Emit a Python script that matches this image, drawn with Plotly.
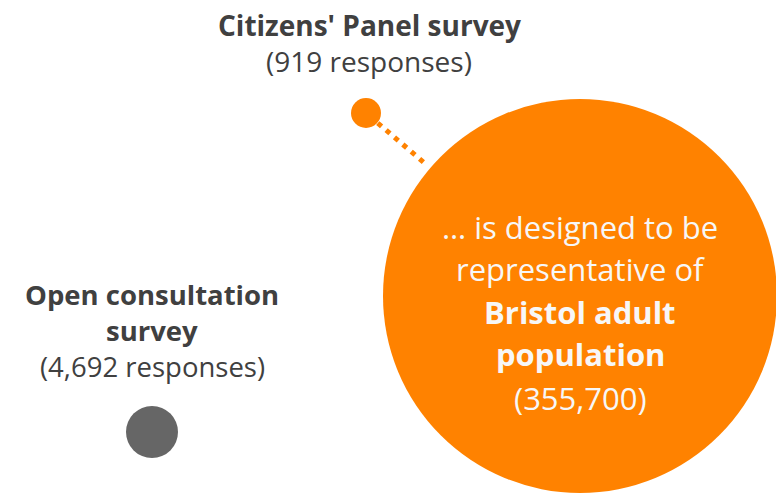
import plotly.graph_objects as go

# Survey samples and the population they are meant to represent
groups = ["Citizens' Panel survey", "Open consultation survey", "Bristol adult population"]
counts = [919, 4692, 355700]
count_labels = ["(919 responses)", "(4,692 responses)", "(355,700)"]

# Bubble placement on a pixel-like canvas (x right, y down)
bubble_x = [366, 152, 580]
bubble_y = [113, 432, 296]
bubble_r = [15, 26, 197]
bubble_col = ["#FF8200", "#666666", "#FF8200"]

FONT = "Open Sans"
DARK = "#404040"
LIGHT = "#F7F7F7"
W, H = 776, 495

fig = go.Figure()
fig.add_trace(go.Scatter(x=[0, W], y=[0, H], mode="markers",
                         marker=dict(opacity=0), hoverinfo="skip", showlegend=False))

shapes = []
# dotted connector from the panel bubble to the population bubble
sx, sy, bx, by = bubble_x[0], bubble_y[0], bubble_x[2], bubble_y[2]
shapes.append(dict(type="line", xref="x", yref="y",
                   x0=sx + (bx - sx) * 0.055, y0=sy + (by - sy) * 0.055,
                   x1=sx + (bx - sx) * 0.275, y1=sy + (by - sy) * 0.275,
                   line=dict(color="#FF8200", width=5, dash="5px,6px"), layer="below"))
for x, y, r, c in zip(bubble_x, bubble_y, bubble_r, bubble_col):
    shapes.append(dict(type="circle", xref="x", yref="y",
                       x0=x - r, x1=x + r, y0=y - r, y1=y + r,
                       fillcolor=c, line=dict(width=0), layer="below"))

def label(x, y, text, color, size):
    fig.add_annotation(x=x, y=y, xref="x", yref="y", text=text, showarrow=False,
                       xanchor="center", yanchor="middle",
                       font=dict(family=FONT, size=size, color=color))

# Citizens' Panel
label(bubble_x[0] + 3, 25, "<b>Citizens' Panel survey</b>", DARK, 28)
label(bubble_x[0] + 3, 61, count_labels[0], DARK, 28)
# Open consultation
label(bubble_x[1], 294, "<b>Open consultation</b>", DARK, 27.5)
label(bubble_x[1], 330, "<b>survey</b>", DARK, 27.5)
label(bubble_x[1], 366, count_labels[1], DARK, 27.5)
# Population bubble text
label(bubble_x[2], 227, "… is designed to be", LIGHT, 31)
label(bubble_x[2], 269, "representative of", LIGHT, 31)
label(bubble_x[2], 312, "<b>Bristol adult</b>", LIGHT, 31)
label(bubble_x[2], 354, "<b>population</b>", LIGHT, 31)
label(bubble_x[2], 398, count_labels[2], LIGHT, 31)

fig.update_layout(
    width=W, height=H, margin=dict(l=0, r=0, t=0, b=0),
    paper_bgcolor="white", plot_bgcolor="white", shapes=shapes,
    xaxis=dict(range=[0, W], visible=False, fixedrange=True),
    yaxis=dict(range=[H, 0], visible=False, fixedrange=True),
    showlegend=False,
)
fig.write_html("out.html", config={"displayModeBar": False})
